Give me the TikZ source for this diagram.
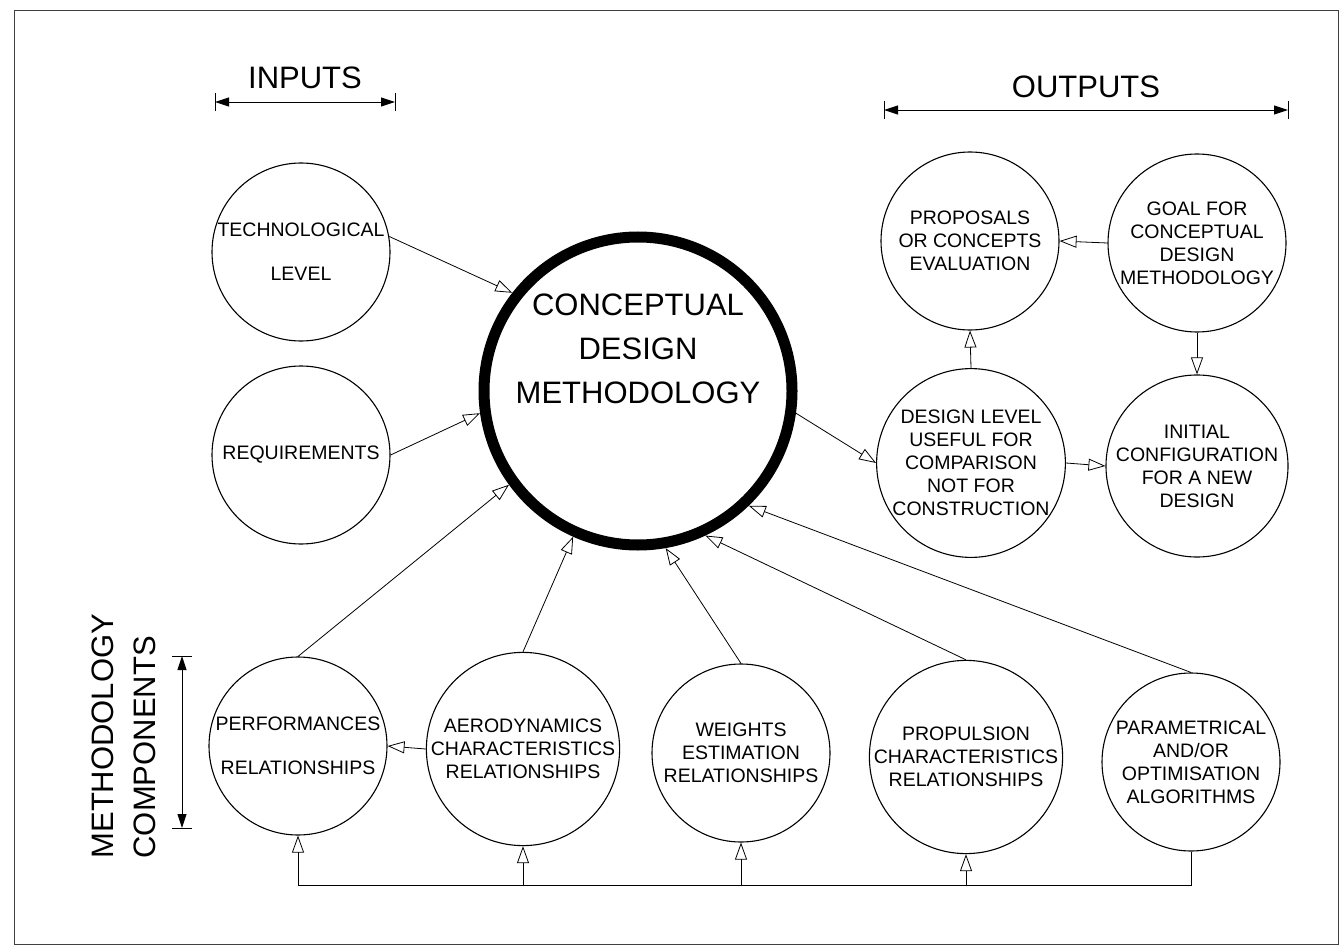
\documentclass[tikz,border=0pt]{standalone}
\usepackage{fontspec}
\setmainfont{Liberation Sans}
\usetikzlibrary{arrows.meta}
\begin{document}
\begin{tikzpicture}[x=1pt,y=-1pt,
  circ/.style={circle, draw, line width=1.1pt, minimum size=178pt, inner sep=0pt, align=center, font=\fontsize{19.5}{23}\selectfont},
  conn/.style={line width=0.8pt, -{Triangle[open,length=17pt,width=12pt]}},
  plain/.style={line width=0.8pt},
  dimline/.style={line width=0.9pt, {Triangle[length=14pt,width=9pt]}-{Triangle[length=14pt,width=9pt]}},
  tick/.style={line width=0.9pt},
  big/.style={font=\fontsize{31}{44}\selectfont}]
\useasboundingbox (0,0) rectangle (1344,952);
\draw[line width=0.9pt, black!75] (14,10) rectangle (1338,944);

% headings
\node[big] (inputs) at (305,78) {INPUTS};
\coordinate (i1) at (215,102);
\coordinate (i2) at (395,102);
\draw[dimline] (i1) -- (i2);
\draw[tick] ([yshift=-9pt]i1) -- ([yshift=9pt]i1);
\draw[tick] ([yshift=-9pt]i2) -- ([yshift=9pt]i2);

\node[big] (outputs) at (1086,87) {OUTPUTS};
\coordinate (o1) at (884,110);
\coordinate (o2) at (1288,110);
\draw[dimline] (o1) -- (o2);
\draw[tick] ([yshift=-9pt]o1) -- ([yshift=9pt]o1);
\draw[tick] ([yshift=-9pt]o2) -- ([yshift=9pt]o2);

\node[big, rotate=90, anchor=west] (meth) at (103,862) {METHODOLOGY};
\node[big, rotate=90, anchor=west] (comp) at (145,862) {COMPONENTS};
\coordinate (c1) at (182,656);
\coordinate (c2) at (182,828);
\draw[dimline] (c1) -- (c2);
\draw[tick] ([xshift=-10pt]c1) -- ([xshift=10pt]c1);
\draw[tick] ([xshift=-10pt]c2) -- ([xshift=10pt]c2);

% central
\node[circle, draw, line width=11pt, minimum size=308pt, inner sep=0pt] (cdm) at (638,391) {};
\node[big, align=center] (cdmtext) at (638,349) {CONCEPTUAL\\DESIGN\\METHODOLOGY};

% inputs
\node[circ] (tech) at (301,252) {TECHNOLOGICAL\\[21pt]LEVEL};
\node[circ] (req) at (301,455) {REQUIREMENTS};

% outputs
\node[circ] (prop) at (970,241) {PROPOSALS\\OR CONCEPTS\\EVALUATION};
\node[circ] (goal) at (1197,243) {GOAL FOR\\CONCEPTUAL\\DESIGN\\METHODOLOGY};
\node[circ] (dl) at (971,463) {DESIGN LEVEL\\USEFUL FOR\\COMPARISON\\NOT FOR\\CONSTRUCTION};
\node[circ] (init) at (1197,466) {INITIAL\\CONFIGURATION\\FOR A NEW\\DESIGN};

% components
\node[circ] (perf) at (298,746) {PERFORMANCES\\[21pt]RELATIONSHIPS};
\node[circ] (aero) at (523,749) {AERODYNAMICS\\CHARACTERISTICS\\RELATIONSHIPS};
\node[circ] (wt) at (741,753) {WEIGHTS\\ESTIMATION\\RELATIONSHIPS};
\node[circ] (propu) at (966,757) {PROPULSION\\CHARACTERISTICS\\RELATIONSHIPS};
\node[circ] (param) at (1191,762) {PARAMETRICAL\\AND/OR\\OPTIMISATION\\ALGORITHMS};

% connectors
\draw[conn] (tech.10) -- (cdm.142);
\draw[conn] (req.east) -- (cdm.188);
\draw[conn] (cdm.352) -- (dl.west);
\draw[conn] (goal.west) -- (prop.east);
\draw[conn] (dl.north) -- (prop.south);
\draw[conn] (goal.south) -- (init.north);
\draw[conn] (dl.east) -- (init.west);
\draw[conn] (aero.west) -- (perf.east);

\draw[conn] (perf.north) -- (cdm.216);
\draw[conn] (aero.north) -- (cdm.246);
\draw[conn] (wt.north) -- (cdm.280);
\draw[conn] (propu.north) -- (cdm.295);
\draw[conn] (param.north) -- (cdm.314);

% feedback
\coordinate (bl) at (298,885);
\draw[plain] (param.south) |- (bl);
\draw[conn] (bl) -- (perf.south);
\draw[conn] (aero.south |- bl) -- (aero.south);
\draw[conn] (wt.south |- bl) -- (wt.south);
\draw[conn] (propu.south |- bl) -- (propu.south);
\end{tikzpicture}
\end{document}
